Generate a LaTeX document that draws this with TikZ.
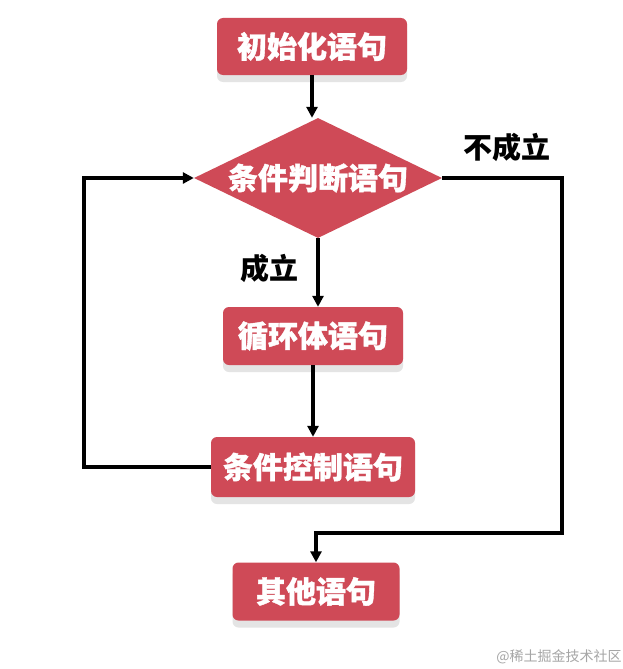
\documentclass[tikz,border=0pt]{standalone}
\usepackage{fontspec}
\newfontfamily\cjk{Noto Sans CJK SC}[BoldFeatures={FakeBold=1.2}]
\newfontfamily\cjkl{Noto Sans CJK SC}
\usetikzlibrary{shapes.geometric,arrows.meta,shadows}
\definecolor{boxred}{RGB}{207,74,87}
\definecolor{shadowgray}{RGB}{228,228,228}
\begin{document}
\begin{tikzpicture}[x=1pt,y=1pt,
  shad/.style={drop shadow={shadow xshift=0pt,shadow yshift=-7pt,fill=shadowgray,opacity=1}},
  procbox/.style={rectangle,rounded corners=6pt,fill=boxred,text=white,inner sep=0pt,
    font=\cjk\bfseries\fontsize{30}{30}\selectfont,shad},
  decbox/.style={diamond,shape aspect=2.07,fill=boxred,text=white,inner sep=0pt,
    minimum width=248pt,minimum height=120pt,font=\cjk\bfseries\fontsize{30}{30}\selectfont},
  lbl/.style={text=black,font=\cjkl\bfseries\fontsize{29}{29}\selectfont,inner sep=0pt},
  arr/.style={line width=3.1pt,draw=black,-{Triangle[length=11pt,width=11pt]}},
  ln/.style={line width=3.1pt,draw=black}]
\fill[white] (0,0) rectangle (622,-669);
\useasboundingbox (0,0) rectangle (622,-669);

\node[procbox,minimum width=190pt,minimum height=57pt] (init) at (312,-46.5) {初始化语句};
\node[decbox] (cond) at (318,-178) {条件判断语句};
\node[procbox,minimum width=180pt,minimum height=58pt] (body) at (313,-336) {循环体语句};
\node[procbox,minimum width=204pt,minimum height=60pt] (ctrl) at (313,-467) {条件控制语句};
\node[procbox,minimum width=167pt,minimum height=58pt] (other) at (316,-591.5) {其他语句};

\node[lbl] (no) at (507,-147) {不成立};
\node[lbl] (yes) at (269,-268) {成立};

\coordinate (rc) at (562,-533);
\coordinate (jn) at (316,-533);
\coordinate (lc) at (84,-467);

\draw[arr] (init.south) -- (init.south |- cond.north);
\draw[arr] (cond.south) -- (cond.south |- body.north);
\draw[arr] (body.south) -- (body.south |- ctrl.north);
\draw[arr] (ctrl.west) -- (lc) |- (cond.west);
\draw[arr] (cond.east) -| (rc) -- (jn) -- (other.north);

\node[text=gray!70,font=\cjkl\fontsize{14}{14}\selectfont,inner sep=0pt] (wm) at (559,-657) {@稀土掘金技术社区};
\end{tikzpicture}
\end{document}
